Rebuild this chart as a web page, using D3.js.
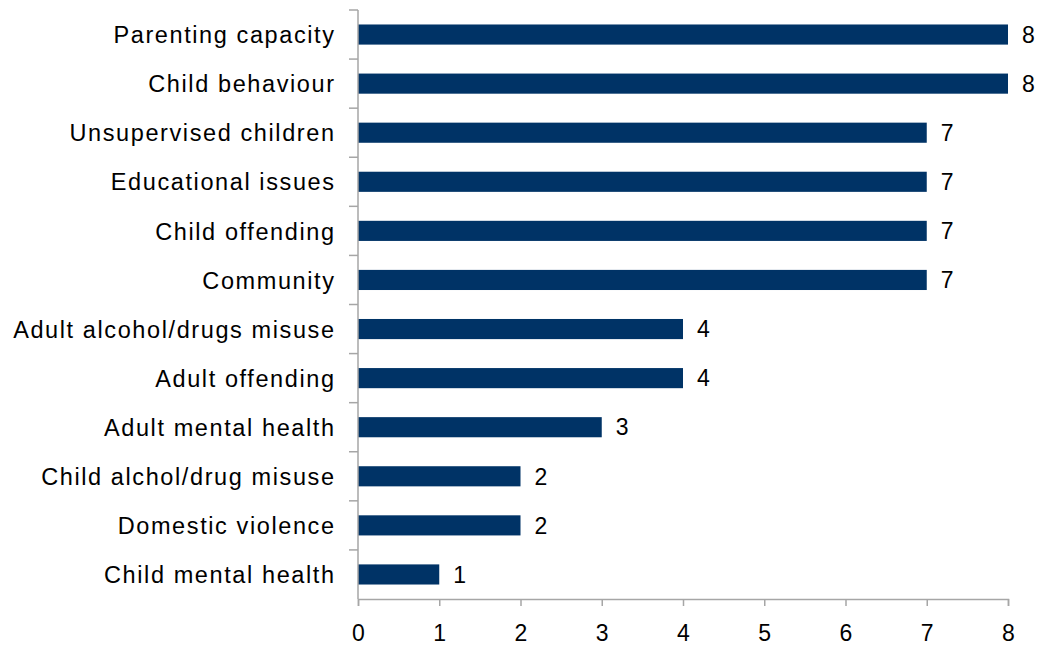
<!DOCTYPE html>
<html><head><meta charset="utf-8">
<script src="https://cdn.jsdelivr.net/npm/d3@7"></script>
<style>body{margin:0;background:#fff}text{font-family:"Liberation Sans",Arial,sans-serif}</style>
</head><body><svg id="c" width="1051" height="647"></svg>
<script>
const categories = ["Parenting capacity","Child behaviour","Unsupervised children","Educational issues","Child offending","Community","Adult alcohol/drugs misuse","Adult offending","Adult mental health","Child alchol/drug misuse","Domestic violence","Child mental health"];
const values = [8,8,7,7,7,7,4,4,3,2,2,1];
const xTicks = [0,1,2,3,4,5,6,7,8];

const svg = d3.select("#c");
const m = {left:358, right:43, top:10, bottom:48};
const W = 1051, H = 647;
const x = d3.scaleLinear().domain([0,8]).range([m.left, W - m.right]);
const y = d3.scaleBand().domain(categories).range([m.top, H - m.bottom]).paddingInner(0.59).paddingOuter(0.295);
const yb = d3.scaleBand().domain(categories).range([m.top, H - m.bottom]);

svg.selectAll("rect.bar").data(values).join("rect").attr("class","bar")
  .attr("x", x(0)).attr("y", (d,i)=>y(categories[i]))
  .attr("width", d=>x(d)-x(0)).attr("height", y.bandwidth())
  .attr("fill","#003366");

svg.selectAll("text.val").data(values).join("text").attr("class","val")
  .attr("x", d=>x(d)+14).attr("y",(d,i)=>y(categories[i])+y.bandwidth()/2)
  .attr("dy","0.36em").attr("font-size",23).attr("fill","#000").text(d=>d);

const axisColor = "#a6a6a6";
// y axis
const ya = svg.append("g");
ya.append("line").attr("x1",m.left).attr("x2",m.left).attr("y1",m.top).attr("y2",H-m.bottom).attr("stroke",axisColor).attr("stroke-width",1.5);
const bounds = categories.map(c=>yb(c));
ya.selectAll("line.t").data(bounds).join("line").attr("class","t")
  .attr("x1",m.left-9).attr("x2",m.left).attr("y1",d=>d).attr("y2",d=>d).attr("stroke",axisColor).attr("stroke-width",1.5);
ya.selectAll("text").data(categories).join("text")
  .attr("x", m.left-22.4).attr("y", d=>yb(d)+yb.bandwidth()/2).attr("dy","0.37em")
  .attr("text-anchor","end").attr("font-size",23.5).attr("letter-spacing","1.6px").attr("fill","#000").text(d=>d);

// x axis
const xa = svg.append("g").attr("transform",`translate(0,${H-m.bottom})`)
  .call(d3.axisBottom(x).tickValues(xTicks).tickSize(7).tickPadding(19).tickFormat(d3.format("d")));
xa.select(".domain").attr("stroke",axisColor).attr("stroke-width",1.5);
xa.selectAll(".tick line").attr("stroke",axisColor).attr("stroke-width",1.5);
xa.selectAll(".tick text").attr("font-size",23).attr("fill","#000").attr("font-family","Liberation Sans, Arial, sans-serif");
</script></body></html>
